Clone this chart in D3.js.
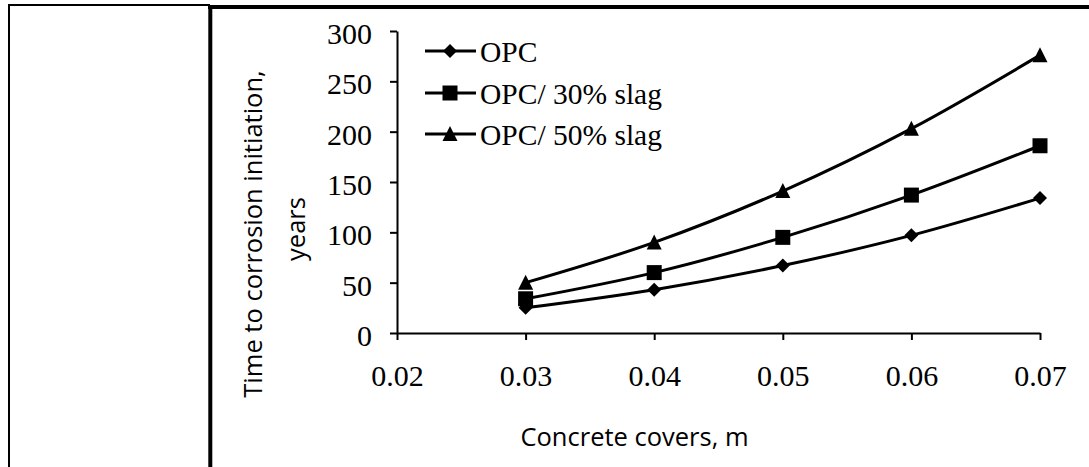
<!DOCTYPE html>
<html>
<head>
<meta charset="utf-8">
<script src="https://cdn.jsdelivr.net/npm/d3@7/dist/d3.min.js"></script>
<style>
  html, body { margin: 0; padding: 0; background: #fff; }
  svg { display: block; }
</style>
</head>
<body>
<svg id="chart" width="1089" height="467"></svg>
<script>
// ---- data ----
const covers = [0.03, 0.04, 0.05, 0.06, 0.07];
const opc = [25, 43, 67, 97, 134];
const slag30 = [34, 60, 95, 137, 186];
const slag50 = [50, 90, 141, 203, 276];
const seriesNames = ["OPC", "OPC/ 30% slag", "OPC/ 50% slag"];
const seriesMarkers = ["diamond", "square", "triangle"];
const xTicks = [0.02, 0.03, 0.04, 0.05, 0.06, 0.07];
const yTicks = [0, 50, 100, 150, 200, 250, 300];
const xTitle = "Concrete covers, m";
const yTitle = ["Time to corrosion initiation,", "years"];

const series = [opc, slag30, slag50].map((vals, i) => ({
  name: seriesNames[i], marker: seriesMarkers[i],
  points: covers.map((c, j) => ({ x: c, y: vals[j] }))
}));

const svg = d3.select("#chart");
svg.append("rect").attr("width", 1089).attr("height", 467).attr("fill", "#fff");

// ---- frame lines ----
const frame = svg.append("g").attr("stroke", "#000");
frame.append("line").attr("x1", 9).attr("x2", 9).attr("y1", 4).attr("y2", 467).attr("stroke-width", 2);
frame.append("line").attr("x1", 8).attr("x2", 210).attr("y1", 5).attr("y2", 5).attr("stroke-width", 2);
frame.append("line").attr("x1", 210.3).attr("x2", 210.3).attr("y1", 5).attr("y2", 467).attr("stroke-width", 4);
frame.append("line").attr("x1", 208).attr("x2", 1089).attr("y1", 7).attr("y2", 7).attr("stroke-width", 4);

// ---- scales ----
const x = d3.scaleLinear().domain([0.02, 0.07]).range([397, 1040]);
const y = d3.scaleLinear().domain([0, 300]).range([333, 31]);

const serif = "'Liberation Serif', 'Times New Roman', serif";
const sans = "'Open Sans', 'Noto Sans', sans-serif";

// ---- axes ----
const yAxis = svg.append("g").attr("transform", "translate(397,0)")
  .call(d3.axisLeft(y).tickValues(yTicks).tickFormat(d3.format("d")).tickSizeInner(7).tickSizeOuter(0).tickPadding(18));
const xAxis = svg.append("g").attr("transform", "translate(0,333)")
  .call(d3.axisBottom(x).tickValues(xTicks).tickFormat(d3.format(".2f")).tickSizeInner(7).tickSizeOuter(0).tickPadding(25));
[xAxis, yAxis].forEach(g => {
  g.selectAll("path, line").attr("stroke", "#000").attr("stroke-width", 2);
  g.selectAll("text").attr("fill", "#000").style("font-family", serif).style("font-size", "30px");
  g.attr("font-size", null).attr("font-family", null);
});
yAxis.selectAll("text").attr("dy", "0.42em");
xAxis.selectAll("text").attr("dy", "0.71em");

// ---- markers ----
function markerPath(type) {
  if (type === "diamond") { const r = 7; return `M0,${-r}L${r},0L0,${r}L${-r},0Z`; }
  if (type === "square") { const r = 7.5; return `M${-r},${-r}H${r}V${r}H${-r}Z`; }
  const w = 7.5, h = 14; return `M0,${-h / 2 - 1}L${w},${h / 2}L${-w},${h / 2}Z`;
}

// ---- lines ----
const line = d3.line().x(d => x(d.x)).y(d => y(d.y)).curve(d3.curveCardinal.tension(0));
series.forEach(s => {
  svg.append("path").datum(s.points).attr("d", line)
    .attr("fill", "none").attr("stroke", "#000").attr("stroke-width", 3);
  svg.append("g").selectAll("path").data(s.points).join("path")
    .attr("d", markerPath(s.marker))
    .attr("transform", d => `translate(${x(d.x)},${y(d.y)})`)
    .attr("fill", "#000");
});

// ---- legend ----
const legRows = [51, 93, 134];
series.forEach((s, i) => {
  const g = svg.append("g").attr("transform", `translate(0,${legRows[i]})`);
  g.append("line").attr("x1", 425).attr("x2", 476).attr("y1", 0).attr("y2", 0)
    .attr("stroke", "#000").attr("stroke-width", 3);
  g.append("path").attr("d", markerPath(s.marker)).attr("transform", "translate(450,0)").attr("fill", "#000");
  g.append("text").attr("x", 480).attr("y", 11).text(s.name)
    .style("font-family", serif).style("font-size", "29.5px").attr("fill", "#000");
});

// ---- titles ----
svg.append("text").attr("x", 634.5).attr("y", 446).attr("text-anchor", "middle")
  .style("font-family", sans).style("font-size", "25.5px").attr("fill", "#000").text(xTitle);
const yt = svg.append("g");
yt.append("text").attr("transform", "translate(262,234) rotate(-90)").attr("text-anchor", "middle")
  .style("font-family", sans).style("font-size", "25.5px").attr("fill", "#000").text(yTitle[0]);
yt.append("text").attr("transform", "translate(305,229) rotate(-90)").attr("text-anchor", "middle")
  .style("font-family", sans).style("font-size", "25.5px").attr("fill", "#000").text(yTitle[1]);
</script>
</body>
</html>
